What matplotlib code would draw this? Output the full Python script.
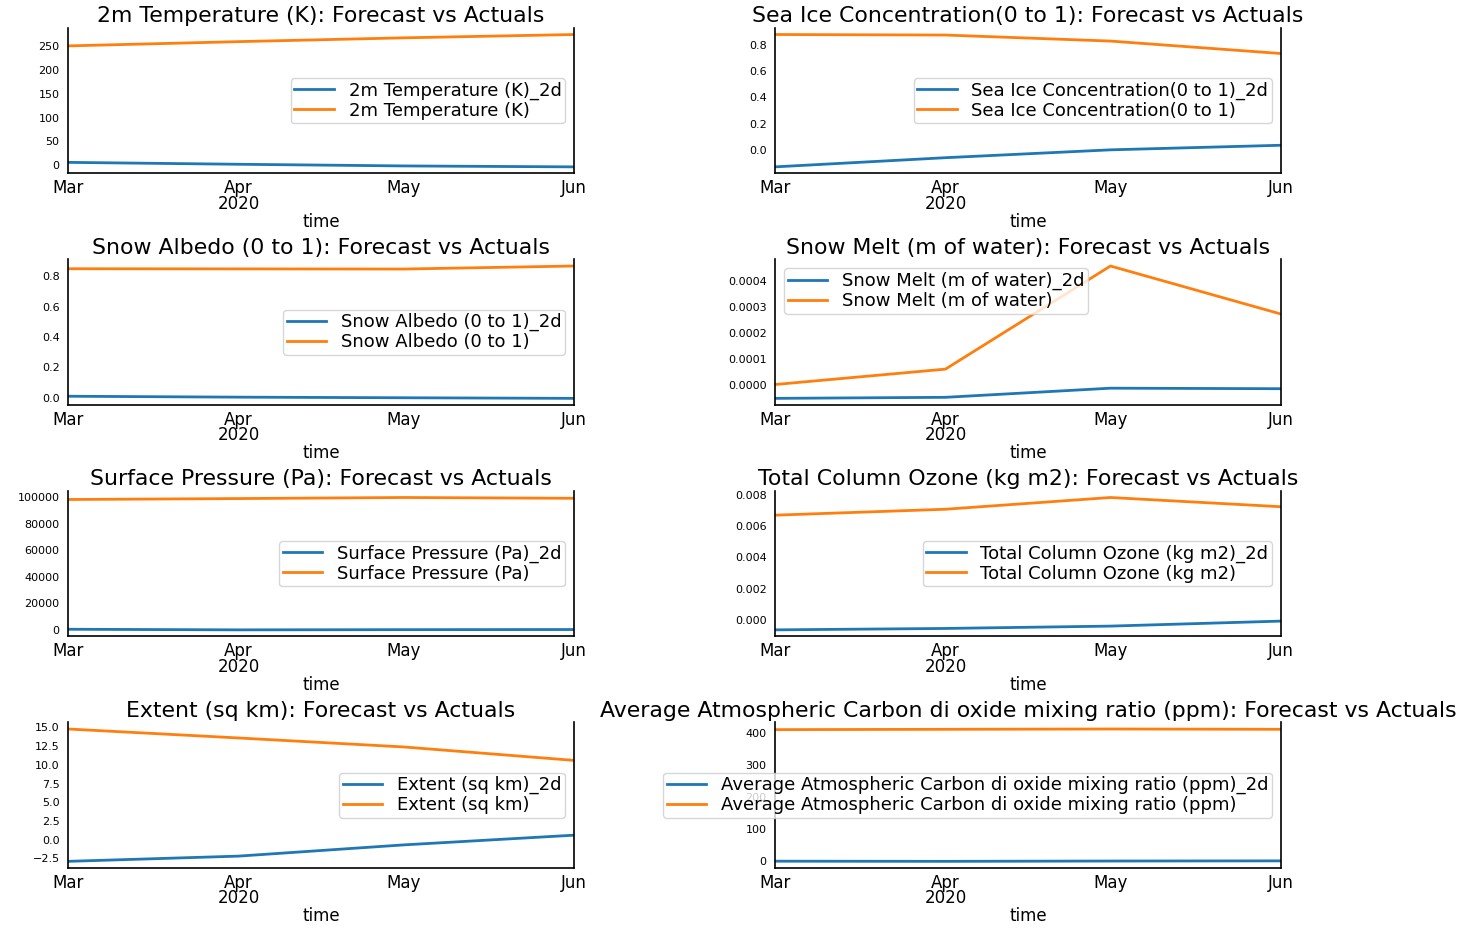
import matplotlib
matplotlib.use("Agg")
import matplotlib.pyplot as plt
from matplotlib.ticker import MultipleLocator
import numpy as np
import pandas as pd

dates = pd.to_datetime(["2020-03-01", "2020-04-01", "2020-05-01", "2020-06-01"])
tick_labels = ["Mar", "Apr\n2020", "May", "Jun"]

names = [
    "2m Temperature (K)",
    "Sea Ice Concentration(0 to 1)",
    "Snow Albedo (0 to 1)",
    "Snow Melt (m of water)",
    "Surface Pressure (Pa)",
    "Total Column Ozone (kg m2)",
    "Extent (sq km)",
    "Average Atmospheric Carbon di oxide mixing ratio (ppm)",
]

temp_2d = [5.5, 1.5, -2.0, -4.0]
temp_act = [251, 260, 268, 275]
seaice_2d = [-0.13, -0.06, 0.0, 0.035]
seaice_act = [0.880, 0.876, 0.830, 0.735]
albedo_2d = [0.010, 0.004, 0.0, -0.004]
albedo_act = [0.850, 0.849, 0.848, 0.868]
melt_2d = [-0.000051, -0.000047, -0.000012, -0.000014]
melt_act = [0.000002, 0.000061, 0.000456, 0.000272]
press_2d = [600, 150, 300, 400]
press_act = [98300, 99000, 99800, 99200]
ozone_2d = [-0.00064, -0.00055, -0.00040, -0.00008]
ozone_act = [0.00669, 0.00707, 0.00782, 0.00723]
extent_2d = [-2.9, -2.2, -0.7, 0.6]
extent_act = [14.8, 13.6, 12.4, 10.6]
co2_2d = [0.0, -0.5, 0.5, 1.0]
co2_act = [411, 412, 413, 412]

series = [
    (temp_2d, temp_act),
    (seaice_2d, seaice_act),
    (albedo_2d, albedo_act),
    (melt_2d, melt_act),
    (press_2d, press_act),
    (ozone_2d, ozone_act),
    (extent_2d, extent_act),
    (co2_2d, co2_act),
]
ytick_steps = [50, 0.2, 0.2, 0.0001, 20000, 0.002, 2.5, 100]
legend_locs = ["center right", "center right", "center right", "upper left",
               "center right", "center right", "center right", "center right"]

fig, axes = plt.subplots(4, 2, figsize=(14.69, 9.30), dpi=100)
fig.subplots_adjust(left=0.0463, right=0.872, top=0.970, bottom=0.0667,
                    wspace=0.397, hspace=0.59)

for ax, name, (f2d, act), loc, step in zip(axes.flat, names, series,
                                            legend_locs, ytick_steps):
    ax.plot(dates, f2d, color="#1f77b4", lw=2, label=f"{name}_2d")
    ax.plot(dates, act, color="#ff7f0e", lw=2, label=name)
    ax.set_xlim(dates[0], dates[-1])
    ax.yaxis.set_major_locator(MultipleLocator(step))
    ax.set_xticks(dates)
    ax.set_xticklabels(tick_labels, fontsize=12, linespacing=0.85)
    ax.tick_params(axis="y", labelsize=8, length=0, pad=6)
    ax.tick_params(axis="x", length=0, pad=4)
    ax.set_xlabel("time", fontsize=12, labelpad=0)
    ax.set_title(f"{name}: Forecast vs Actuals", fontsize=15.8, pad=4)
    ax.spines["top"].set_visible(False)
    for s in ["left", "right", "bottom"]:
        ax.spines[s].set_color("black")
        ax.spines[s].set_linewidth(1.2)
    ax.legend(loc=loc, fontsize=13, framealpha=0.8, labelspacing=0.1,
              borderpad=0.2, handlelength=2.2)

fig.savefig("out.png", dpi=100, facecolor="white")
